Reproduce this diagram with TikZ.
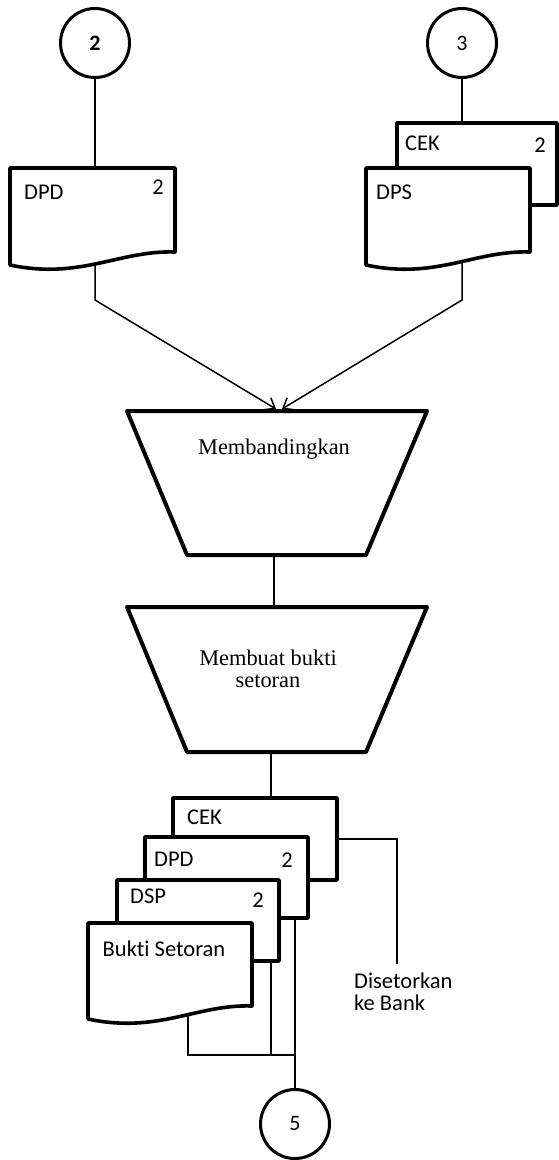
\documentclass[tikz,border=0pt]{standalone}
\usepackage{fontspec}
\setmainfont{Carlito}[Ligatures=NoCommon]
\newfontfamily\procfont{Liberation Serif}
\usetikzlibrary{arrows.meta}

% document symbol with a wavy bottom edge: left x, top y, right x, right-bottom y
\newcommand{\docsym}[4]{%
  \draw[docline] (#1,#2) -- (#3,#2) -- (#3,#4)
    .. controls (#3-55,#4-2) and (#1+70,#4+28) .. (#1,#4+13) -- cycle;}
% plain sheet lying behind another one
\newcommand{\backsheet}[4]{%
  \draw[docline] (#1,#2) rectangle (#3,#4);}
% manual operation symbol: top y, bottom y
\newcommand{\manop}[2]{%
  \draw[opline] (127,#1) -- (427,#1) -- (366,#2) -- (187,#2) -- cycle;}

\begin{document}
\begin{tikzpicture}[x=1pt,y=-1pt,
  docline/.style={line width=3.6pt,fill=white,line join=round},
  opline/.style={line width=4pt,fill=white,line join=round},
  conn/.style={line width=1.5pt},
  arr/.style={conn,-{Straight Barb[length=9pt,width=14pt,line width=1.5pt]}},
  conncircle/.style={circle,draw,line width=3pt,minimum size=69pt,inner sep=0pt,fill=white,font=\fontsize{22}{26}\selectfont},
  lbl/.style={inner sep=0pt,font=\fontsize{22.5}{26}\selectfont},
  proc/.style={inner sep=0pt,align=center,font=\procfont\fontsize{22.4}{22.5}\selectfont}]
\useasboundingbox (0,0) rectangle (558,1160);

% off-page connectors
\node[conncircle] (c2) at (95,43) {\bfseries 2};
\node[conncircle] (c3) at (462,43) {3};
\node[conncircle] (c5) at (295,1124) {5};

% named points on the flow lines
\coordinate (dpdtop) at (95,168);
\coordinate (dpdout) at (95,250);
\coordinate (dpdbend) at (95,300);
\coordinate (cektop) at (462,123);
\coordinate (dpsout) at (462,250);
\coordinate (dpsbend) at (462,300);
\coordinate (inL) at (276,409);
\coordinate (inR) at (282,409);
\coordinate (op1out) at (274,555);
\coordinate (op2in) at (274,607);
\coordinate (op2out) at (271,752);
\coordinate (stacktop) at (271,798);
\coordinate (cekR) at (337,839);
\coordinate (bankcorner) at (397,839);
\coordinate (bankend) at (397,964);
\coordinate (bsout) at (188,1005);
\coordinate (bsdown) at (188,1055);
\coordinate (dspout) at (271,950);
\coordinate (dspdown) at (271,1055);
\coordinate (dpdout2) at (295,905);
\coordinate (join) at (295,1055);

% flow lines (drawn first, the symbols cover their ends)
\draw[conn] (c2) -- (dpdtop);
\draw[conn] (c3) -- (cektop);
\draw[arr] (dpdout) -- (dpdbend) -- (inL);
\draw[arr] (dpsout) -- (dpsbend) -- (inR);
\draw[conn] (op1out) -- (op2in);
\draw[conn] (op2out) -- (stacktop);
\draw[conn] (cekR) -- (bankcorner) -- (bankend);
\draw[conn] (bsout) -- (bsdown) -- (join);
\draw[conn] (dspout) -- (dspdown);
\draw[conn] (dpdout2) -- (c5);

% left input document
\docsym{10}{168}{175}{252}
\node[lbl,anchor=west] (tdpd) at (24,192) {DPD};
\node[lbl] (tdpdn) at (158,187) {2};

% right input documents
\backsheet{397}{123}{557}{205}
\node[lbl,anchor=west] (tcek) at (405,143) {CEK};
\node[lbl] (tcekn) at (540,145) {2};
\docsym{366}{168}{530}{252}
\node[lbl,anchor=west] (tdps) at (376,192) {DPS};

% processing steps
\manop{411}{555}
\node[proc] (p1) at (274,449) {Membandingkan};
\manop{607}{752}
\node[proc] (p2) at (268,669) {Membuat bukti\\setoran};

% output documents
\backsheet{173}{798}{337}{880}
\node[lbl,anchor=west] (ocek) at (187,817) {CEK};
\backsheet{145}{837}{308}{918}
\node[lbl,anchor=west] (odpd) at (154,859) {DPD};
\node[lbl] (odpdn) at (287,860) {2};
\backsheet{117}{880}{279}{961}
\node[lbl,anchor=west] (odsp) at (130,896) {DSP};
\node[lbl] (odspn) at (258,900) {2};
\docsym{88}{923}{252}{1006}
\node[lbl] (obs) at (164,949) {Bukti Setoran};

% destination note
\node[lbl,anchor=north west,align=left,font=\fontsize{22.5}{21.5}\selectfont] (bank) at (354,973) {Disetorkan\\ke Bank};
\end{tikzpicture}
\end{document}
